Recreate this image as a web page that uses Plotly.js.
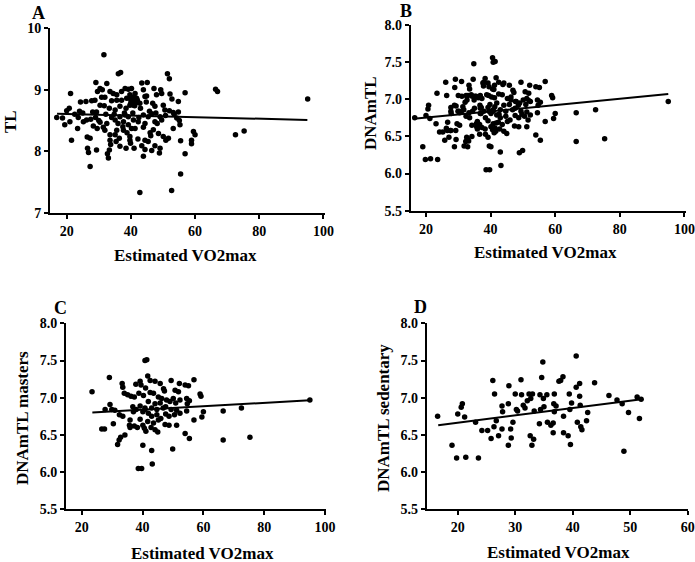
<!DOCTYPE html>
<html>
<head>
<meta charset="utf-8">
<script src="https://cdn.plot.ly/plotly-3.0.1.min.js"></script>
<style>
  html, body { margin: 0; padding: 0; background: #fff; }
  #chart { width: 695px; height: 562px; }
</style>
</head>
<body>
<div id="chart"></div>
<script>
// Panel A: telomere length (TL) vs estimated VO2max
const aX = [31.6, 36.1, 36.8, 29.1, 32.5, 21.2, 30.4, 29.6, 31.1, 33.5, 34.5, 35.6, 37.1, 38.2, 39.2, 40.2, 39.7, 38.7,
  37.1, 35.6, 34.0, 31.9, 30.9, 28.8, 27.8, 26.0, 24.3, 40.2, 40.8, 39.7, 38.5, 36.6, 35.1, 33.3, 31.7, 30.4, 29.3,
  28.1, 20.8, 20.0, 16.9, 18.7, 19.4, 21.0, 23.6, 25.2, 26.2, 27.5, 28.3, 29.5, 30.4, 31.4, 32.5, 31.9, 34.0, 35.1,
  36.6, 38.2, 39.2, 40.6, 37.7, 39.2, 40.2, 35.6, 33.5, 35.1, 37.7, 36.4, 39.7, 39.9, 38.5, 23.4, 21.5, 26.4, 27.3,
  33.5, 33.7, 33.3, 32.7, 33.0, 29.3, 26.5, 26.8, 27.3, 36.6, 35.4,
  51.4, 52.0, 43.4, 45.1, 43.9, 47.2, 49.3, 52.2, 56.9, 41.3, 41.8, 44.4, 48.0, 49.6, 41.6, 42.8, 46.8, 47.5, 50.1,
  54.8, 50.6, 52.0, 53.2, 54.8, 43.9, 45.4, 46.5, 49.1, 40.8, 42.3, 44.4, 47.5, 49.6, 54.3, 55.1, 55.3, 53.2, 41.3,
  43.9, 47.0, 48.6, 50.1, 50.9, 51.7, 59.5, 60.0, 58.9, 58.9, 55.5, 56.9, 39.7, 44.4, 45.4, 43.4, 44.4, 47.5, 49.1,
  48.9, 41.0, 46.5, 43.9, 55.5, 42.8, 52.7,
  40.5, 41.0, 41.5, 40.0, 42.0, 41.2, 39.5, 38.0, 37.5, 43.0, 45.8, 47.8, 46.0, 42.5, 44.8, 48.2, 50.8, 53.5, 52.8,
  34.8, 32.2, 30.0, 25.0, 22.5, 24.0, 29.0, 36.0, 38.8, 42.2, 44.9, 46.2,
  66.4, 67.0, 72.6, 75.3, 95.1];
const aY = [9.57, 9.26, 9.28, 9.12, 9.10, 8.94, 9.02, 8.97, 9.00, 8.97, 8.94, 8.92, 8.97, 9.02, 9.01, 9.02, 8.92, 8.86,
  8.83, 8.83, 8.82, 8.88, 8.88, 8.83, 8.82, 8.81, 8.80, 8.81, 8.75, 8.75, 8.70, 8.73, 8.67, 8.70, 8.74, 8.75, 8.64,
  8.64, 8.70, 8.66, 8.55, 8.54, 8.43, 8.48, 8.55, 8.48, 8.51, 8.52, 8.41, 8.37, 8.47, 8.39, 8.45, 8.34, 8.55, 8.51,
  8.56, 8.59, 8.56, 8.62, 8.48, 8.43, 8.37, 8.34, 8.27, 8.27, 8.34, 8.21, 8.24, 8.13, 8.05, 8.37, 8.18, 8.23, 8.21,
  8.18, 8.11, 8.02, 7.96, 7.89, 8.02, 8.05, 7.98, 7.75, 8.08, 8.16,
  9.26, 9.18, 9.11, 9.12, 9.00, 9.02, 9.00, 8.93, 8.95, 8.94, 8.86, 8.89, 8.92, 8.94, 8.79, 8.78, 8.78, 8.73, 8.75,
  8.81, 8.67, 8.66, 8.63, 8.64, 8.59, 8.56, 8.61, 8.56, 8.51, 8.48, 8.45, 8.48, 8.51, 8.54, 8.50, 8.43, 8.37, 8.37,
  8.39, 8.35, 8.29, 8.24, 8.18, 8.21, 8.32, 8.27, 8.18, 8.12, 8.17, 7.96, 8.18, 8.18, 8.16, 8.09, 8.03, 8.09, 8.05,
  7.97, 8.05, 8.01, 7.92, 7.63, 7.33, 7.36,
  8.88, 8.80, 8.85, 8.79, 8.83, 8.74, 8.86, 8.62, 8.40, 8.70, 8.65, 8.62, 8.30, 8.55, 8.80, 8.45, 8.58, 8.60, 8.85,
  8.60, 8.60, 8.50, 8.62, 8.60, 8.65, 8.55, 8.45, 8.30, 8.20, 8.90, 8.25,
  9.01, 8.97, 8.27, 8.33, 8.85];

// Panel C: masters
const cX = [40.8, 29.1, 23.4, 33.3, 33.5, 37.8, 39.2, 39.5, 34.0, 35.1, 36.2, 37.3, 38.8, 40.3, 29.3, 27.7, 29.9, 30.9,
  32.4, 33.5, 36.8, 37.0, 37.9, 39.2, 40.1, 40.8, 26.6, 27.5, 30.4, 35.7, 35.9, 37.3, 38.3, 39.2, 40.1, 40.6, 35.9,
  34.2, 32.8, 32.3, 31.8, 40.1, 38.6, 39.7,
  41.4, 41.7, 42.5, 44.1, 45.8, 49.4, 52.1, 54.0, 55.1, 56.9, 58.9, 59.2, 46.9, 47.2, 50.7, 51.8, 41.0, 42.5, 43.6,
  45.2, 46.3, 47.9, 49.0, 50.1, 41.9, 44.1, 45.8, 50.9, 52.3, 54.5, 54.7, 55.4, 43.0, 44.7, 46.8, 47.6, 49.4, 51.2,
  52.3, 54.5, 40.8, 41.9, 43.0, 44.7, 46.0, 47.6, 48.7, 50.5, 60.0, 59.5, 56.9, 41.7, 43.6, 45.2, 47.4, 48.7, 51.2,
  42.8, 44.1, 45.0, 41.1, 54.0, 55.4, 43.0, 49.9, 43.2,
  66.5, 66.5, 72.5, 75.3, 95.0];
const cY = [7.50, 7.27, 7.08, 7.19, 7.14, 7.18, 7.22, 7.17, 7.06, 7.04, 7.02, 7.01, 7.06, 7.03, 6.91, 6.84, 6.84, 6.83,
  6.77, 6.75, 6.88, 6.81, 6.84, 6.89, 6.81, 6.86, 6.58, 6.58, 6.65, 6.63, 6.60, 6.62, 6.60, 6.71, 6.63, 6.59, 6.70,
  6.50, 6.47, 6.43, 6.37, 6.36, 6.05, 6.05,
  7.51, 7.29, 7.23, 7.22, 7.19, 7.23, 7.19, 7.17, 7.16, 7.24, 7.05, 7.02, 7.12, 7.09, 7.10, 7.08, 7.13, 7.07, 7.06,
  7.01, 6.99, 6.97, 6.95, 6.99, 6.95, 6.92, 6.93, 6.93, 6.97, 6.99, 6.92, 6.96, 6.86, 6.84, 6.86, 6.88, 6.84, 6.83,
  6.79, 6.82, 6.84, 6.79, 6.75, 6.77, 6.72, 6.78, 6.75, 6.77, 6.81, 6.74, 6.70, 6.68, 6.66, 6.70, 6.64, 6.63, 6.63,
  6.60, 6.57, 6.54, 6.55, 6.52, 6.45, 6.29, 6.31, 6.11,
  6.82, 6.43, 6.86, 6.47, 6.97];

// Panel D: sedentary
const dX = [16.5, 19.0, 20.0, 19.8, 20.6, 20.8, 21.2, 21.4, 23.1, 23.6, 24.2, 25.2, 25.8, 26.1, 26.3, 26.4, 26.7, 27.1,
  27.7, 27.8, 27.7, 28.9, 28.8, 28.8, 29.2, 29.3, 29.6, 30.0, 30.2, 30.4, 31.0, 31.1, 31.4, 31.7, 32.1, 32.4, 32.6,
  32.7, 32.9, 33.0, 33.2, 33.3, 34.2, 34.3, 34.4, 34.6, 34.8, 34.9, 35.0, 35.5, 35.6, 36.2, 36.6, 36.6, 36.7, 36.8,
  36.8, 37.1, 37.6, 37.9, 38.3, 38.4, 38.4, 39.2, 39.4, 39.5, 39.6, 39.8, 40.6, 40.6, 40.8, 41.2, 41.2, 41.3, 41.4,
  41.6, 42.4, 42.6, 43.8, 46.3, 47.7, 48.6, 48.9, 49.7, 51.2, 51.6, 51.9];
const dY = [6.75, 6.36, 6.78, 6.19, 6.87, 6.92, 6.74, 6.20, 6.67, 6.19, 6.56, 6.56, 6.45, 7.23, 6.61, 7.05, 6.69, 6.49,
  6.89, 6.81, 6.58, 7.16, 6.92, 6.36, 6.58, 6.46, 6.67, 7.05, 6.84, 6.82, 7.24, 7.04, 6.90, 6.86, 6.96, 7.05, 6.49,
  6.99, 6.36, 7.05, 6.44, 6.82, 6.65, 7.04, 6.84, 7.27, 7.48, 6.99, 6.88, 7.04, 6.67, 6.63, 6.66, 6.53, 6.92, 7.05,
  6.81, 6.89, 7.22, 7.23, 7.28, 6.75, 6.53, 6.49, 7.05, 6.84, 6.37, 6.93, 7.56, 7.14, 6.67, 7.19, 7.02, 6.90, 6.61,
  6.57, 6.69, 6.80, 7.20, 7.03, 6.97, 6.92, 6.28, 6.80, 7.01, 6.72, 6.98];

// Panel B: all subjects (masters + sedentary)
const bX = cX.concat(dX);
const bY = cY.concat(dY);

// Fitted regression lines (end points)
const fitAX = [17, 95], fitAY = [8.61, 8.51];
const fitBX = [17, 95], fitBY = [6.74, 7.07];
const fitCX = [23.5, 95], fitCY = [6.80, 6.965];
const fitDX = [16.6, 52], fitDY = [6.63, 6.98];

const W = 695, H = 562;
const px = v => v / W;
const py = v => 1 - v / H;

const font = { family: '"Liberation Serif", "Times New Roman", serif', color: '#000' };

function dots(x, y, n) {
    return {
        x: x, y: y, type: 'scatter', mode: 'markers',
        xaxis: 'x' + n, yaxis: 'y' + n,
        marker: { color: '#000', size: 5.5 },
        hoverinfo: 'skip'
    };
}

function fit(x, y, n) {
    return {
        x: x, y: y, type: 'scatter', mode: 'lines',
        xaxis: 'x' + n, yaxis: 'y' + n,
        line: { color: '#000', width: 2 },
        hoverinfo: 'skip'
    };
}

function xAxis(dom, range, dtick, anchor) {
    return {
        domain: dom, range: range, dtick: dtick, tick0: 0, anchor: anchor,
        showline: true, linecolor: '#000', linewidth: 2,
        ticks: 'outside', ticklen: 4, tickwidth: 2, tickcolor: '#000',
        showgrid: false, zeroline: false,
        tickfont: { ...font, size: 14, weight: 'bold' }
    };
}

function yAxis(dom, range, dtick, fmt, anchor) {
    return {
        domain: dom, range: range, dtick: dtick, tick0: 0, tickformat: fmt, anchor: anchor,
        showline: true, linecolor: '#000', linewidth: 2,
        ticks: 'outside', ticklen: 4, tickwidth: 2, tickcolor: '#000',
        showgrid: false, zeroline: false,
        tickfont: { ...font, size: 14, weight: 'bold' }
    };
}

function label(text, x, y, size, angle) {
    return {
        text: text, x: px(x), y: py(y), xref: 'paper', yref: 'paper',
        xanchor: 'center', yanchor: 'middle', showarrow: false,
        textangle: angle || 0,
        font: { ...font, size: size, weight: 'bold' }
    };
}

const traces = [
    dots(aX, aY, ''), fit(fitAX, fitAY, ''),
    dots(bX, bY, '2'), fit(fitBX, fitBY, '2'),
    dots(cX, cY, '3'), fit(fitCX, fitCY, '3'),
    dots(dX, dY, '4'), fit(fitDX, fitDY, '4')
];

const layout = {
    width: W, height: H,
    margin: { t: 0, r: 0, b: 0, l: 0 },
    paper_bgcolor: '#fff', plot_bgcolor: '#fff',
    showlegend: false,
    font: font,
    xaxis: xAxis([px(50), px(325)], [14.8, 100.5], 20, 'y'),
    yaxis: yAxis([py(212.7), py(28.3)], [7, 10], 1, '', 'x'),
    xaxis2: xAxis([px(410.7), px(685.7)], [15.26, 100.4], 20, 'y2'),
    yaxis2: yAxis([py(210.7), py(25)], [5.5, 8], 0.5, '.1f', 'x2'),
    xaxis3: xAxis([px(66), px(326)], [14.84, 100.3], 20, 'y3'),
    yaxis3: yAxis([py(509.3), py(323.3)], [5.5, 8], 0.5, '.1f', 'x3'),
    xaxis4: xAxis([px(426.7), px(688)], [14.6, 60.05], 10, 'y4'),
    yaxis4: yAxis([py(509.3), py(323.3)], [5.5, 8], 0.5, '.1f', 'x4'),
    annotations: [
        label('A', 38, 13, 18),
        label('B', 406, 11, 18),
        label('C', 60, 308, 18),
        label('D', 420, 307, 18),
        label('Estimated VO2max', 185, 255, 17),
        label('Estimated VO2max', 545, 252, 17),
        label('Estimated VO2max', 202, 553, 17),
        label('Estimated VO2max', 558, 552, 17),
        label('TL', 11, 122, 17, -90),
        label('DNAmTL', 371, 113, 17, -90),
        label('DNAmTL masters', 22, 418, 17, -90),
        label('DNAmTL sedentary', 383, 418, 17, -90)
    ]
};

Plotly.newPlot('chart', traces, layout, { displayModeBar: false, staticPlot: true });
</script>
</body>
</html>
